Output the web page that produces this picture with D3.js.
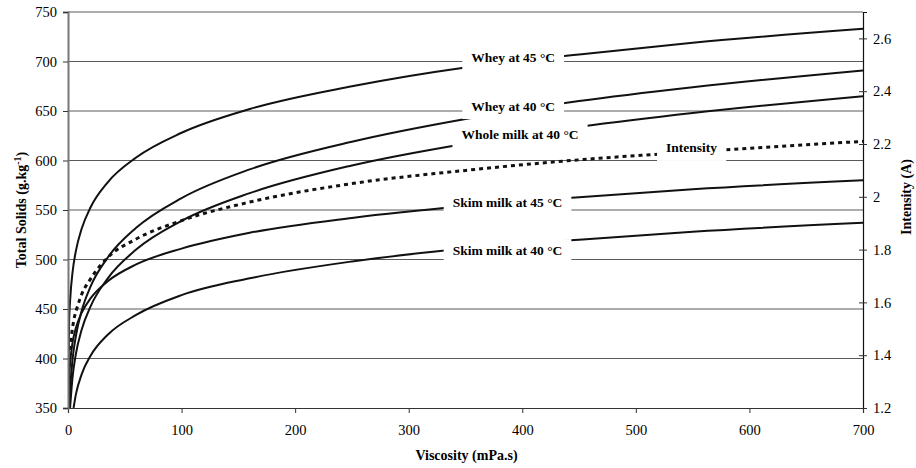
<!DOCTYPE html>
<html>
<head>
<meta charset="utf-8">
<script src="https://cdnjs.cloudflare.com/ajax/libs/d3/7.8.5/d3.min.js"></script>
<style>
body { margin: 0; background: #fff; }
svg text { font-family: "Liberation Serif", "Times New Roman", serif; fill: #000; }
</style>
</head>
<body>
<div id="chart"></div>
<script>
// total solids (g/kg) against viscosity (mPa.s)
var wheyAt45 = [[0.1,350],[1,437],[2,461],[4,487],[7,509],[12,531],[20,553],[35,578],[60,603],[100,628],[160,652],[250,675],[350,694],[450,707],[550,719],[700,733]];
var wheyAt40 = [[1.2,350],[2,370],[4,399],[7,423],[12,448],[20,473],[35,502],[60,532],[100,562],[160,591],[250,619],[350,642],[450,660],[550,674],[700,691]];
var wholeMilkAt40 = [[1.8,350],[2,353],[4,381],[7,405],[12,429],[20,453],[35,481],[60,510],[100,539],[160,567],[250,595],[350,617],[450,634],[550,648],[700,665]];
var skimMilkAt45 = [[0.3,350],[1,380],[2,397],[4,416],[7,431],[12,446],[20,461],[35,478],[60,495],[100,511],[160,527],[250,542],[350,554],[450,563],[550,571],[700,580]];
var skimMilkAt40 = [[4.9,350],[7,364],[12,384],[20,403],[35,424],[60,444],[100,464],[160,481],[250,498],[350,511],[450,520],[550,528],[700,537]];
// intensity (A) on the right axis
var intensity = [[2,1.42],[3,1.47],[5,1.53],[8,1.58],[12,1.63],[20,1.69],[35,1.77],[60,1.84],[100,1.91],[160,1.98],[250,2.05],[350,2.10],[450,2.14],[550,2.17],[700,2.21]];

var xTicks = [0, 100, 200, 300, 400, 500, 600, 700];
var leftTicks = [350, 400, 450, 500, 550, 600, 650, 700, 750];
var rightTicks = [1.2, 1.4, 1.6, 1.8, 2, 2.2, 2.4, 2.6];

var labels = [
    {text: "Whey at 45 °C", x: 392, y: 704, axis: "left"},
    {text: "Whey at 40 °C", x: 392, y: 655, axis: "left"},
    {text: "Whole milk at 40 °C", x: 398, y: 626, axis: "left"},
    {text: "Intensity", x: 549, y: 2.185, axis: "right"},
    {text: "Skim milk at 45 °C", x: 387, y: 558, axis: "left"},
    {text: "Skim milk at 40 °C", x: 387, y: 509.5, axis: "left"}
];

var width = 916, height = 468;
var margin = {top: 12, right: 53, bottom: 60, left: 68};

var svg = d3.select("#chart").append("svg")
    .attr("width", width)
    .attr("height", height);

var x = d3.scaleLinear().domain([0, 700]).range([margin.left, width - margin.right]);
var y = d3.scaleLinear().domain([350, 750]).range([height - margin.bottom, margin.top]);
var yR = d3.scaleLinear().domain([1.2, 2.7]).range([height - margin.bottom, margin.top]);

svg.append("defs").append("clipPath").attr("id", "plot")
    .append("rect")
    .attr("x", margin.left).attr("y", margin.top)
    .attr("width", x(700) - margin.left)
    .attr("height", y(350) - margin.top);

// gridlines
svg.append("g").selectAll("line")
    .data(leftTicks.slice(1))
    .enter().append("line")
    .attr("x1", x(0)).attr("x2", x(700))
    .attr("y1", function(d) { return y(d); })
    .attr("y2", function(d) { return y(d); })
    .attr("stroke", "#5a5a5a")
    .attr("stroke-width", 1);

var lineL = d3.line()
    .x(function(d) { return x(d[0]); })
    .y(function(d) { return y(d[1]); })
    .curve(d3.curveMonotoneX);
var lineR = d3.line()
    .x(function(d) { return x(d[0]); })
    .y(function(d) { return yR(d[1]); })
    .curve(d3.curveMonotoneX);

var curves = svg.append("g").attr("clip-path", "url(#plot)");
[wheyAt45, wheyAt40, wholeMilkAt40, skimMilkAt45, skimMilkAt40].forEach(function(s) {
    curves.append("path")
        .attr("d", lineL(s))
        .attr("fill", "none")
        .attr("stroke", "#111")
        .attr("stroke-width", 2);
});
curves.append("path")
    .attr("d", lineR(intensity))
    .attr("fill", "none")
    .attr("stroke", "#111")
    .attr("stroke-width", 3)
    .attr("stroke-dasharray", "4,4");

// labels sit on white boxes over the lines
var lab = svg.append("g");
labels.forEach(function(l) {
    var cx = x(l.x);
    var cy = l.axis == "right" ? yR(l.y) : y(l.y);
    var g = lab.append("g");
    var rect = g.append("rect").attr("fill", "#fff");
    var t = g.append("text")
        .attr("x", cx).attr("y", cy + 4.5)
        .attr("text-anchor", "middle")
        .style("font-size", "13.5px")
        .style("font-weight", "bold")
        .text(l.text);
    var bb = t.node().getBBox();
    rect.attr("x", bb.x - 9).attr("y", cy - 11)
        .attr("width", bb.width + 18).attr("height", 24);
});

// axes
var ax = svg.append("g")
    .attr("transform", "translate(0," + y(350) + ")")
    .call(d3.axisBottom(x).tickValues(xTicks).tickSize(5).tickPadding(12));
ax.select(".domain").attr("stroke", "#333").attr("stroke-width", 1.2);

var ay = svg.append("g")
    .attr("transform", "translate(" + x(0) + ",0)")
    .call(d3.axisLeft(y).tickValues(leftTicks).tickSize(5).tickPadding(6));
ay.select(".domain").attr("stroke", "#777").attr("stroke-width", 2);

var ayR = svg.append("g")
    .attr("transform", "translate(" + x(700) + ",0)")
    .call(d3.axisRight(yR).tickValues(rightTicks).tickSize(4).tickPadding(6)
        .tickFormat(function(d) { return String(Math.round(d * 10) / 10); }));
ayR.select(".domain").attr("stroke", "#111").attr("stroke-width", 1.2);
ayR.selectAll(".tick line").attr("x1", -4);

svg.selectAll(".tick text").style("font-size", "14.5px");
svg.selectAll(".tick line").attr("stroke", "#333");

svg.append("text")
    .attr("x", (x(0) + x(700)) / 2 + 1).attr("y", 460)
    .attr("text-anchor", "middle")
    .style("font-size", "14px").style("font-weight", "bold")
    .text("Viscosity (mPa.s)");

var yt = svg.append("text")
    .attr("transform", "translate(26," + (y(550)) + ") rotate(-90)")
    .attr("text-anchor", "middle")
    .style("font-size", "14px").style("font-weight", "bold");
yt.append("tspan").text("Total Solids (g.kg");
yt.append("tspan").attr("dy", -5).style("font-size", "10px").text("-1");
yt.append("tspan").attr("dy", 5).text(")");

svg.append("text")
    .attr("transform", "translate(911,197) rotate(-90)")
    .attr("text-anchor", "middle")
    .style("font-size", "14px").style("font-weight", "bold")
    .text("Intensity (A)");
</script>
</body>
</html>
